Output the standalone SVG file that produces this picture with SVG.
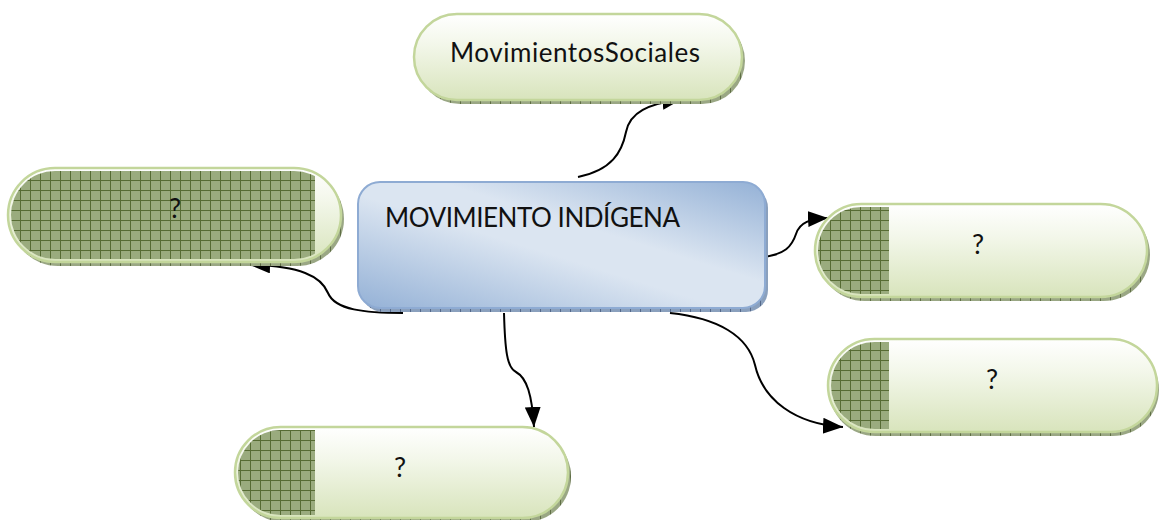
<svg xmlns="http://www.w3.org/2000/svg" width="1159" height="520" viewBox="0 0 1159 520">
<style>
.pill{stroke:#c3d69b;stroke-width:2.5;fill:url(#gGreen)}
.shadow{fill:url(#hatchShadow)}
.hatch{fill:url(#hatch)}
.lbl{font-family:Lato,"Open Sans","Liberation Sans",sans-serif;fill:#111}
.q{font-family:Lato,"Open Sans","Liberation Sans",sans-serif;font-size:27px;fill:#111;text-anchor:middle}
.conn{fill:none;stroke:#000;stroke-width:2;marker-end:url(#arr)}
</style>
<defs>
<linearGradient id="gGreen" x1="0" y1="0" x2="0" y2="1">
<stop offset="0" stop-color="#ffffff"/>
<stop offset="0.35" stop-color="#f3f7ea"/>
<stop offset="1" stop-color="#d8e4bc"/>
</linearGradient>
<linearGradient id="gBlue" x1="0" y1="1" x2="1" y2="0">
<stop offset="0" stop-color="#94b1d6"/>
<stop offset="0.45" stop-color="#dbe5f1"/>
<stop offset="0.6" stop-color="#dbe5f1"/>
<stop offset="1" stop-color="#94b1d6"/>
</linearGradient>
<pattern id="hatch" width="10" height="10" patternUnits="userSpaceOnUse">
<rect width="10" height="10" fill="#9aab7e"/>
<path d="M0,0.5H10M0.5,0V10" stroke="#566b33" stroke-width="1"/>
</pattern>
<pattern id="hatchShadow" width="10" height="10" patternUnits="userSpaceOnUse">
<rect width="10" height="10" fill="#9aa784"/>
<path d="M0.5,0V10" stroke="#5f6e45" stroke-width="1"/>
</pattern>
<pattern id="hatchBlue" width="10" height="10" patternUnits="userSpaceOnUse">
<rect width="10" height="10" fill="#8aa0bd"/>
<path d="M0.5,0V10" stroke="#55698a" stroke-width="1"/>
</pattern>
<marker id="arr" markerUnits="userSpaceOnUse" markerWidth="22" markerHeight="18" refX="20" refY="8" orient="auto">
<path d="M0,0 L20,8 L0,16 Z" fill="#000"/>
</marker>
<clipPath id="cL"><rect x="11" y="171" width="327" height="88" rx="44"/></clipPath>
<clipPath id="cR1"><rect x="818" y="207" width="326" height="87" rx="43.5"/></clipPath>
<clipPath id="cR2"><rect x="831" y="342" width="324" height="87" rx="43.5"/></clipPath>
<clipPath id="cB"><rect x="238" y="430" width="327" height="85" rx="42.5"/></clipPath>
</defs>

<g id="connectors">
<path class="conn" d="M578,177 C612,170 622,152 626,132 C630,112 648,104 682,99"/>
<path class="conn" d="M403,313 C365,313 335,310 328,293 C321,276 300,266 250,265"/>
<path class="conn" d="M504,313 C505,350 507,368 516,372 C527,378 532,395 534,427"/>
<path class="conn" d="M762,257 C785,255 792,246 796,234 C800,222 810,219 828,218"/>
<path class="conn" d="M670,313 C718,318 748,336 755,365 C763,400 795,424 843,427"/>
</g>

<g id="node-social">
<rect class="shadow" x="417" y="18" width="328" height="86" rx="43"/>
<rect class="pill" x="414" y="14" width="328" height="86" rx="43"/>
<text class="lbl" x="575" y="62" font-size="26" text-anchor="middle" textLength="250">MovimientosSociales</text>
</g>

<g id="node-center">
<rect x="361" y="186" width="407" height="126" rx="22" fill="url(#hatchBlue)"/>
<rect x="358" y="182" width="407" height="126" rx="22" fill="url(#gBlue)" stroke="#8eabd3" stroke-width="2"/>
<text class="lbl" x="385" y="227" font-size="26" textLength="295">MOVIMIENTO INDÍGENA</text>
</g>

<g id="node-left">
<rect class="shadow" x="11" y="172" width="333" height="94" rx="47"/>
<rect class="pill" x="8" y="168" width="333" height="94" rx="47"/>
<rect class="hatch" x="8" y="171" width="307" height="90" clip-path="url(#cL)"/>
<text class="q" x="175" y="218">?</text>
</g>

<g id="node-right1">
<rect class="shadow" x="818" y="208" width="332" height="93" rx="46.5"/>
<rect class="pill" x="815" y="204" width="332" height="93" rx="46.5"/>
<rect class="hatch" x="815" y="207" width="74" height="88" clip-path="url(#cR1)"/>
<text class="q" x="978" y="254">?</text>
</g>

<g id="node-right2">
<rect class="shadow" x="829" y="343" width="330" height="93" rx="46.5"/>
<rect class="pill" x="828" y="339" width="329" height="93" rx="46.5"/>
<rect class="hatch" x="828" y="342" width="61" height="88" clip-path="url(#cR2)"/>
<text class="q" x="992" y="389">?</text>
</g>

<g id="node-bottom">
<rect class="shadow" x="238" y="431" width="333" height="91" rx="45.5"/>
<rect class="pill" x="235" y="427" width="333" height="91" rx="45.5"/>
<rect class="hatch" x="235" y="430" width="80" height="86" clip-path="url(#cB)"/>
<text class="q" x="400" y="477">?</text>
</g>
</svg>
